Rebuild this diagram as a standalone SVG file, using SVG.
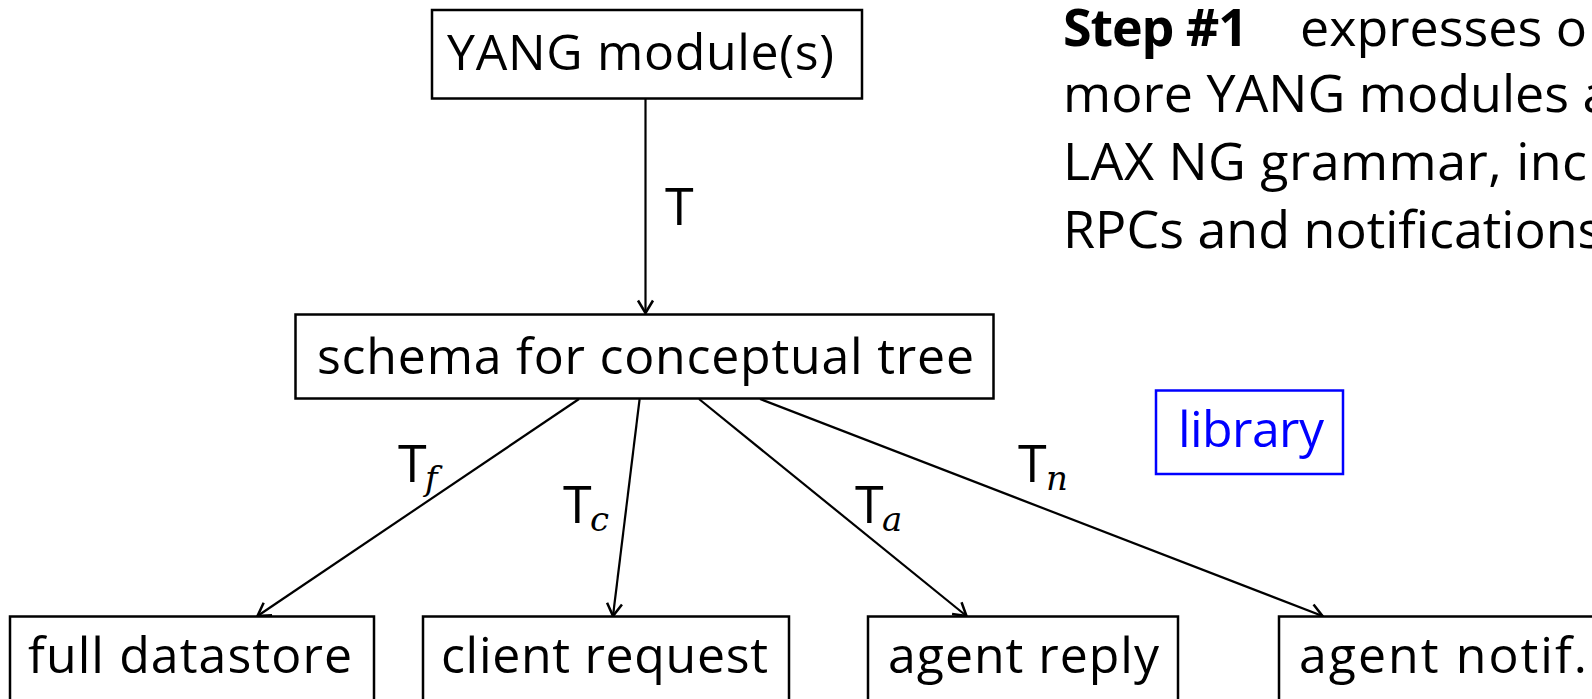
<svg xmlns="http://www.w3.org/2000/svg" width="1592" height="699" viewBox="0 0 1592 699">
  <style>
    .box { fill: #ffffff; stroke: #000000; stroke-width: 2.5; }
    .lib { fill: #ffffff; stroke: #0000ff; stroke-width: 2.5; }
    .lbl { font-family: "Open Sans", "Noto Sans", sans-serif; font-size: 50px; fill: #000000; }
    .blue { fill: #0000ff; }
    .conn { stroke: #000000; stroke-width: 2.2; fill: none; marker-end: url(#arr); }
    .mt { font-family: "Open Sans", "Noto Sans", sans-serif; font-size: 52px; fill: #000000; }
    .sub { font-family: "DejaVu Serif", "Liberation Serif", serif; font-style: italic; font-size: 34px; fill: #000000; }
    .para { font-family: "Open Sans", "Noto Sans", sans-serif; font-size: 52px; fill: #000000; }
  </style>
  <defs>
    <marker id="arr" markerUnits="userSpaceOnUse" markerWidth="20" markerHeight="20" viewBox="-12 -8 14 16" refX="0" refY="0" orient="auto">
      <path d="M-10,-6 L0,0 L-10,6" fill="none" stroke="#000000" stroke-width="2"/>
    </marker>
  </defs>
  <rect width="1592" height="699" fill="#ffffff"/>

  <g id="connectors">
    <line class="conn" x1="645.5" y1="99" x2="645.5" y2="313"/>
    <line class="conn" x1="579" y1="399" x2="257.5" y2="616"/>
    <line class="conn" x1="639.6" y1="399" x2="613" y2="616"/>
    <line class="conn" x1="699" y1="399" x2="966.5" y2="616"/>
    <line class="conn" x1="760" y1="399" x2="1322.5" y2="616"/>
    <g id="edge-labels">
      <text class="mt" x="665" y="225">T</text>
      <text class="mt" x="398" y="482">T</text><text class="sub" x="425" y="490">f</text>
      <text class="mt" x="563" y="523">T</text><text class="sub" x="590" y="531">c</text>
      <text class="mt" x="855" y="523">T</text><text class="sub" x="882" y="531">a</text>
      <text class="mt" x="1018" y="482">T</text><text class="sub" x="1046" y="490">n</text>
    </g>
  </g>

  <g id="yang">
    <rect class="box" x="432" y="10" width="430" height="88.5"/>
    <text class="lbl" x="447" y="70" textLength="387">YANG module(s)</text>
  </g>
  <g id="schema">
    <rect class="box" x="295.5" y="314.5" width="698" height="84"/>
    <text class="lbl" x="317" y="374" textLength="657">schema for conceptual tree</text>
  </g>
  <g id="full-datastore">
    <rect class="box" x="10" y="616.5" width="364" height="120"/>
    <text class="lbl" x="28" y="673" textLength="324">full datastore</text>
  </g>
  <g id="client-request">
    <rect class="box" x="423" y="616.5" width="366" height="120"/>
    <text class="lbl" x="441" y="673" textLength="327">client request</text>
  </g>
  <g id="agent-reply">
    <rect class="box" x="868" y="616.5" width="310" height="120"/>
    <text class="lbl" x="888" y="673" textLength="271">agent reply</text>
  </g>
  <g id="agent-notif">
    <rect class="box" x="1279" y="616.5" width="400" height="120"/>
    <text class="lbl" x="1299" y="673" textLength="288">agent notif.</text>
  </g>
  <g id="library">
    <rect class="lib" x="1156" y="390.5" width="187" height="83.5"/>
    <text class="lbl blue" x="1178" y="447" textLength="146">library</text>
  </g>
  <g id="description">
    <text class="para" y="46"><tspan x="1063" font-weight="bold" textLength="185">Step #1</tspan><tspan x="1300">expresses o</tspan></text>
    <text class="para" x="1063" y="112">more YANG modules a</text>
    <text class="para" x="1063" y="180" textLength="524">LAX NG grammar, inc</text>
    <text class="para" x="1063" y="248">RPCs and notifications</text>
  </g>
</svg>
